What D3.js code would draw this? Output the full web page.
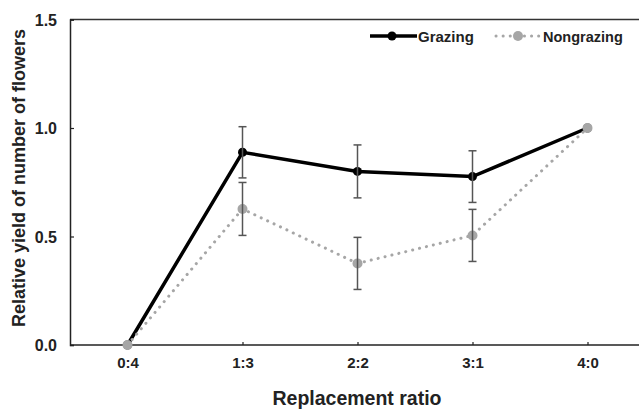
<!DOCTYPE html>
<meta charset='utf-8'>
<style>
body { margin: 0; background: #fff; }
text { font-family: 'Liberation Sans', Arial, sans-serif; font-weight: bold; fill: #222; }
</style>
<svg id='chart' width='639' height='410'></svg>
<script src="https://cdnjs.cloudflare.com/ajax/libs/d3/7.8.5/d3.min.js"></script>
<script>
const ratios = ['0:4', '1:3', '2:2', '3:1', '4:0'];
const grazing = [0, 0.888, 0.80, 0.776, 1.0];
const grazingErr = [null, 0.118, 0.122, 0.119, null];
const nongrazing = [0, 0.627, 0.376, 0.505, 1.0];
const nongrazingErr = [null, 0.122, 0.12, 0.12, null];
const yTicks = [0, 0.5, 1.0, 1.5];

const svg = d3.select('#chart');
const plotLeft = 70, plotTop = 19.5, plotBottom = 345;

const x = d3.scalePoint().domain(ratios).range([70, 645]).padding(0.5);
const y = d3.scaleLinear().domain([0, 1.5]).range([plotBottom, plotTop]);

// frame
svg.append('line').attr('x1', plotLeft).attr('x2', 639).attr('y1', plotTop).attr('y2', plotTop)
  .attr('stroke', '#333').attr('stroke-width', 1.5);

const yAxis = svg.append('g').attr('transform', `translate(${plotLeft},0)`)
  .call(d3.axisRight(y).tickValues(yTicks).tickSize(4).tickFormat(d3.format('.1f')));
yAxis.select('.domain').attr('stroke', '#222').attr('stroke-width', 1.5);
yAxis.selectAll('.tick line').attr('stroke', '#222').attr('stroke-width', 1.2);
yAxis.selectAll('.tick text').attr('x', -13).attr('text-anchor', 'end').attr('dy', '0.36em')
  .style('font-size', '16px').attr('fill', '#222');

const xAxis = svg.append('g').attr('transform', `translate(0,${plotBottom})`)
  .call(d3.axisTop(x).tickSize(3));
xAxis.select('.domain').attr('d', `M${plotLeft},0H639`).attr('stroke', '#222').attr('stroke-width', 1.5);
xAxis.selectAll('.tick line').attr('stroke', '#222').attr('stroke-width', 1.2);
xAxis.selectAll('.tick text').attr('y', 23).attr('dy', 0)
  .style('font-size', '15px').attr('fill', '#222');

const errLayer = [];
function series(vals, errs, opt) {
  const pts = vals.map((v, i) => ({ k: ratios[i], v: v, e: errs[i] }));
  const line = d3.line().x(d => x(d.k)).y(d => y(d.v));
  svg.append('path').datum(pts).attr('d', line).attr('fill', 'none')
    .attr('stroke', opt.color).attr('stroke-width', opt.width)
    .attr('stroke-dasharray', opt.dash).attr('stroke-linecap', opt.cap);
  svg.append('g').selectAll('circle').data(pts).join('circle')
    .attr('cx', d => x(d.k)).attr('cy', d => y(d.v)).attr('r', opt.r).attr('fill', opt.mark);
  pts.filter(d => d.e != null).forEach(d => errLayer.push(d));
}

const grzOpt = { color: '#000', mark: '#000', width: 3.5, dash: null, cap: 'butt', r: 4.5 };
const nonOpt = { color: '#a6a6a6', mark: '#a6a6a6', width: 3, dash: '0.1 7', cap: 'round', r: 5 };
series(grazing, grazingErr, grzOpt);
series(nongrazing, nongrazingErr, nonOpt);

// error bars on top
const eb = svg.append('g').attr('stroke', '#555').attr('stroke-width', 1.5)
  .selectAll('g').data(errLayer).join('g');
eb.append('line').attr('x1', d => x(d.k)).attr('x2', d => x(d.k))
  .attr('y1', d => y(d.v + d.e)).attr('y2', d => y(d.v - d.e));
eb.append('line').attr('x1', d => x(d.k) - 4).attr('x2', d => x(d.k) + 4)
  .attr('y1', d => y(d.v + d.e)).attr('y2', d => y(d.v + d.e));
eb.append('line').attr('x1', d => x(d.k) - 4).attr('x2', d => x(d.k) + 4)
  .attr('y1', d => y(d.v - d.e)).attr('y2', d => y(d.v - d.e));

// legend
const lg = svg.append('g');
lg.append('line').attr('x1', 370).attr('x2', 417).attr('y1', 36).attr('y2', 36)
  .attr('stroke', '#000').attr('stroke-width', 3.5);
lg.append('circle').attr('cx', 392).attr('cy', 36).attr('r', 4.5).attr('fill', '#000');
lg.append('text').attr('x', 418).attr('y', 42).style('font-size', '15px').text('Grazing');
lg.append('line').attr('x1', 496).attr('x2', 540).attr('y1', 36).attr('y2', 36)
  .attr('stroke', '#a6a6a6').attr('stroke-width', 3).attr('stroke-dasharray', '0.1 7')
  .attr('stroke-linecap', 'round');
lg.append('circle').attr('cx', 518).attr('cy', 36).attr('r', 5).attr('fill', '#a6a6a6');
lg.append('text').attr('x', 543).attr('y', 42).style('font-size', '14.5px').text('Nongrazing');

// titles
svg.append('text').attr('transform', 'translate(25,178) rotate(-90)').attr('text-anchor', 'middle')
  .style('font-size', '18px').text('Relative yield of number of flowers');
svg.append('text').attr('x', 357).attr('y', 405).attr('text-anchor', 'middle')
  .style('font-size', '19.5px').text('Replacement ratio');
</script>
